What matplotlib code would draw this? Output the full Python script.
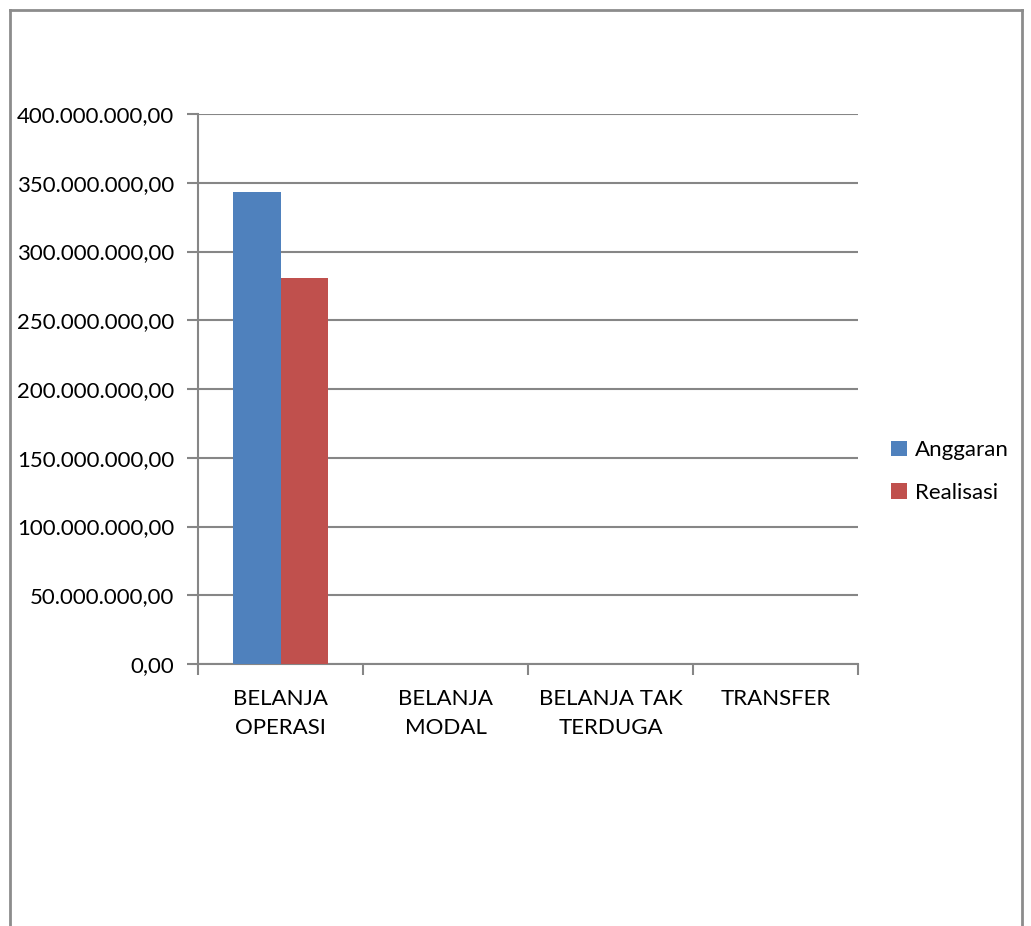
import numpy as np
import matplotlib
matplotlib.use("Agg")
from matplotlib import pyplot as plt
from matplotlib.lines import Line2D

categories = ["BELANJA\nOPERASI", "BELANJA\nMODAL", "BELANJA TAK\nTERDUGA", "TRANSFER"]
anggaran = [343300000, 0, 0, 0]
realisasi = [281000000, 0, 0, 0]
y_ticks = np.arange(0, 400000001, 50000000)

BLUE = "#4f81bd"
RED = "#c0504d"
GRID = "#868686"

plt.rcParams["font.family"] = ["Lato", "DejaVu Sans"]
FS = 16

W, H = 1031, 926
fig = plt.figure(figsize=(W / 100, H / 100), dpi=100)

# outer chart border (bottom edge is cut off in the reference)
for xs, ys in [([10, 10], [10, 926]), ([10, 1022], [10, 10]), ([1022, 1022], [10, 926])]:
    fig.add_artist(Line2D([x / W for x in xs], [1 - y / H for y in ys],
                          color="#8c8c8c", lw=2, transform=fig.transFigure))

ax = fig.add_axes([198 / W, 1 - 664 / H, 660 / W, 550 / H])
x = np.arange(len(categories))
bw = 0.287
ax.bar(x - bw / 2, anggaran, bw, color=BLUE, label="Anggaran", zorder=3)
ax.bar(x + bw / 2, realisasi, bw, color=RED, label="Realisasi", zorder=3)

ax.set_xlim(-0.5, len(categories) - 0.5)
ax.set_ylim(0, 400000000)
ax.set_yticks(y_ticks)
ax.set_yticklabels([f"{v:,.2f}".replace(",", "X").replace(".", ",").replace("X", ".") for v in y_ticks],
                   fontsize=FS)
ax.set_xticks(x)
ax.set_xticklabels(categories, fontsize=FS, linespacing=1.55)
ax.set_xticks(np.arange(-0.5, len(categories)), minor=True)
ax.tick_params(axis="x", which="major", length=0, pad=18)
ax.tick_params(axis="x", which="minor", length=8, color=GRID, width=1.5)
ax.tick_params(axis="y", length=8, color=GRID, width=1.5, pad=9)
ax.grid(axis="y", color=GRID, lw=1.5, zorder=0)
for side in ["top", "right"]:
    ax.spines[side].set_visible(False)
for side in ["left", "bottom"]:
    ax.spines[side].set_color(GRID)
    ax.spines[side].set_linewidth(1.5)

ax.legend(loc="center left", bbox_to_anchor=(1.02, 0.35), frameon=False, fontsize=FS,
          handlelength=0.7, handleheight=0.7, handletextpad=0.35, labelspacing=1.0)

fig.savefig("out.png", dpi=100)
